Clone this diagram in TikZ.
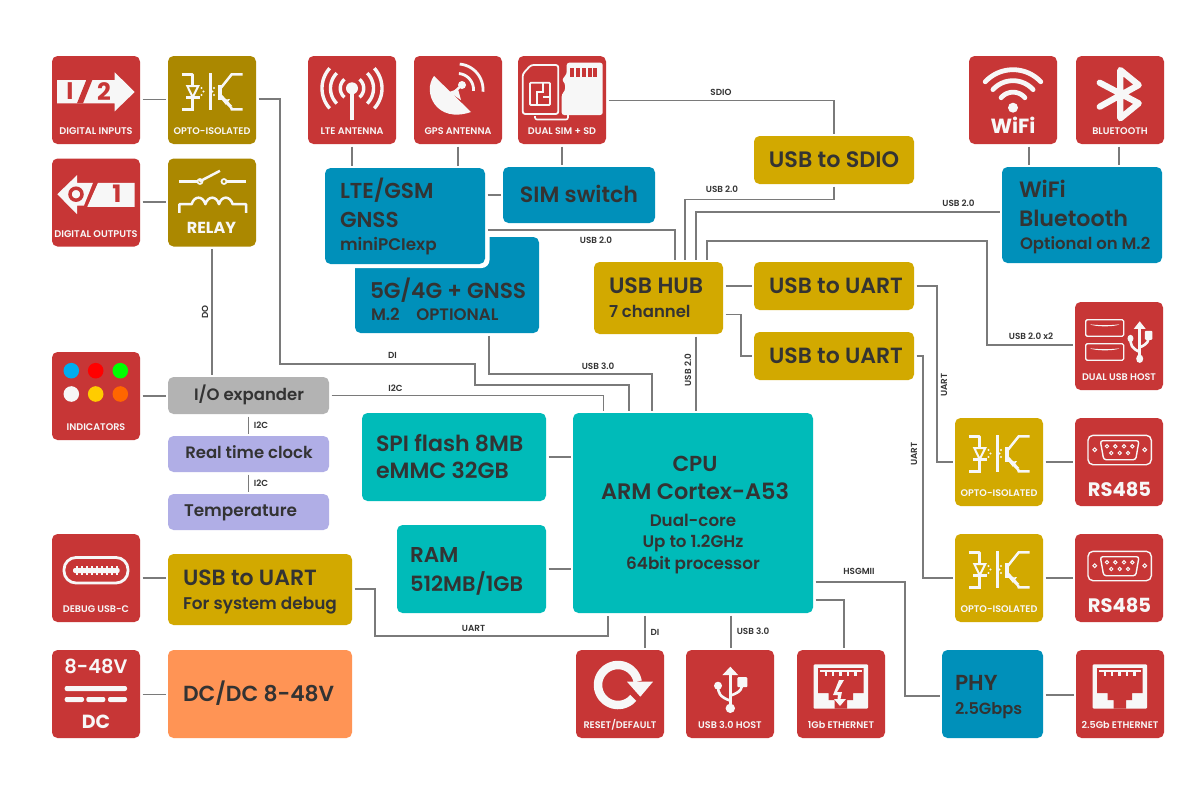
\documentclass[tikz,border=0pt]{standalone}
\usepackage{fontspec}
\setmainfont{Poppins SemiBold}
\newfontfamily\semi{Poppins SemiBold}
\newfontfamily\bld{Poppins Bold}
\usetikzlibrary{calc}
\definecolor{ired}{HTML}{C73636}
\definecolor{igold}{HTML}{AB8800}
\definecolor{gold}{HTML}{D2A900}
\definecolor{blu}{HTML}{0090BA}
\definecolor{teal2}{HTML}{00BBB9}
\definecolor{gry}{HTML}{B3B3B3}
\definecolor{lav}{HTML}{B0AEE6}
\definecolor{orng}{HTML}{FF9455}
\definecolor{ink}{HTML}{333333}
\definecolor{iw}{HTML}{F7F7F7}
\definecolor{wirec}{HTML}{7A7A7A}
\definecolor{ledy}{HTML}{FFCC00}
\definecolor{ledo}{HTML}{FF6600}
\tikzset{
  boxn/.style={rectangle,rounded corners=5.5pt,inner sep=0pt,outer sep=2.5pt},
  wire/.style={draw=wirec,line width=1.5pt},
  ic/.style={draw=iw,line width=2.5pt},
  txt/.style={inner sep=0pt,outer sep=0pt,text=ink},
}
\newcounter{tn}
% name, x1,y1,x2,y2, colour
\newcommand\bx[6]{%
  \pgfmathsetmacro\bw{#4-#2}\pgfmathsetmacro\bh{#5-#3}%
  \pgfmathsetmacro\bcx{(#4+#2)/2}\pgfmathsetmacro\bcy{(#5+#3)/2}%
  \node[boxn,fill=#6,minimum width=\bw pt,minimum height=\bh pt] (#1) at (\bcx,\bcy) {};}
% anchor, x,y,size, text (dark, medium)
\newcommand\tm[5][west]{%
  \stepcounter{tn}\pgfmathsetmacro\th{0.7*#4}%
  \node[txt,anchor=#1,text height=\th pt,text depth=0pt,font=\fontsize{#4}{#4}\selectfont] (t\arabic{tn}) at (#2,#3) {#5};}
% x,y,text small label; optional rotation
\newcommand\ts[4][0]{%
  \stepcounter{tn}%
  \node[txt,rotate=#1,text height=6pt,text depth=0pt,font=\fontsize{8.8}{9}\semi] (t\arabic{tn}) at (#2,#3) {#4};}
% x,y,size,text white
\newcommand\tw[4]{%
  \stepcounter{tn}\pgfmathsetmacro\th{0.7*#3}%
  \node[txt,text=iw,text height=\th pt,text depth=0pt,font=\fontsize{#3}{#3}\semi] (t\arabic{tn}) at (#1,#2) {#4};}
\newcommand\ilabel[2]{\tw{44}{75.3}{#1}{#2}}
% arc path using screen angles: cx cy r a b
\newcommand\sarc[5]{plot[smooth,domain=#4:#5,samples=25] ({#1+#3*cos(\x)},{#2-#3*sin(\x)})}
\newcommand\optoicon[2]{\begin{scope}[shift={(#1,#2)}]
  \draw[ic,line join=round] (13.7,18.3) -- (24.7,18.3) -- (24.7,30);
  \draw[ic,line width=2pt] (19.3,30) -- (30.3,30) -- (24.7,41.3) -- cycle;
  \draw[ic] (18.2,41.3) -- (31.5,41.3);
  \draw[ic] (24.7,41.3) -- (24.7,53.3) -- (13.7,53.3);
  \draw[ic] (42.7,17.3) -- (42.7,54);
  \draw[ic,line width=4pt] (52,29) -- (52,44);
  \draw[ic] (52,33) -- (63.7,18.3) -- (74.7,18.3);
  \draw[ic,line width=3.2pt] (52,39) -- (63,51);
  \draw[ic] (63,51) -- (63.7,53.3) -- (74.7,53.3);
  \fill[iw] (54,44) -- (62,43) -- (58,49) -- cycle;
  \foreach \a/\b in {33.5/32,35.5/35.5,33.5/39, 46/32,44.5/35.5,46/39}{\fill[iw] (\a,\b) circle[radius=1.1];}
  \end{scope}}
\newcommand\dbicon[2]{\begin{scope}[shift={(#1,#2)}]
  \draw[draw=iw,line width=1.4pt,rounded corners=5pt] (13,17.3) rectangle (76.3,46.7);
  \draw[draw=iw,line width=1.4pt,rounded corners=2.5pt] (25.3,22.7) -- (64,22.7) -- (60.7,41.7) -- (28.7,41.7) -- cycle;
  \foreach \a in {32,40.3,49,57.3}{\draw[iw,line width=1pt] (\a,28.3) circle[radius=1.7];}
  \foreach \a in {36.3,44.7,53}{\draw[iw,line width=1pt] (\a,35) circle[radius=1.7];}
  \foreach \a in {19.7,69.7}{\draw[iw,line width=1pt] (\a,31.7) circle[radius=1.9];}
  \tw{44.5}{71.7}{19.5}{\bld RS485}
  \end{scope}}
\newcommand\rjicon[2]{\begin{scope}[shift={(#1,#2)}]
  \fill[iw,rounded corners=1pt] (16.7,14.3) rectangle (71,58.7);
  \fill[ired] (21,18) -- (66.7,18) -- (66.7,43) -- (56,43) -- (56,50) -- (50,50) -- (50,58.7) -- (37.7,58.7) -- (37.7,50) -- (31.7,50) -- (31.7,43) -- (21,43) -- cycle;
  \fill[iw] (22.7,19.5) rectangle (65.3,22);
  \foreach \a in {29,36,43.5,51,58.5}{\fill[iw] (\a-1.1,22) rectangle (\a+1.1,26);}
  \end{scope}}
\newcommand\usbtri[4]{\begin{scope}[shift={(#1,#2)},xscale=#3,yscale=#4]
  \draw[iw,line width=2.6pt] (0,6) -- (0,41);
  \fill[iw] (0,0) -- (8,8.5) -- (-8,8.5) -- cycle;
  \fill[iw] (0,41.6) circle[radius=4.7];
  \draw[iw,line width=2.6pt] (0,34) .. controls (-11,30) and (-12.3,26) .. (-12.3,19);
  \fill[iw] (-12.3,19) circle[radius=4];
  \draw[iw,line width=2.6pt] (0,29) .. controls (11,25) and (12,22) .. (12,15.5);
  \fill[iw,rounded corners=1pt] (7,10.5) rectangle (17,20.5);
  \end{scope}}
\begin{document}
\begin{tikzpicture}[x=1pt,y=-1pt]
\useasboundingbox (0,0) rectangle (1200,801);
\fill[white] (0,0) rectangle (1200,801);
% red / icon boxes
\bx{dinp}{52}{56}{140}{144}{ired}
\bx{optoa}{168}{56}{256}{144}{igold}
\bx{dout}{52}{158.5}{140}{246.5}{ired}
\bx{relay}{168}{158.5}{256}{246.5}{igold}
\bx{lteant}{308}{56}{396}{144}{ired}
\bx{gpsant}{414}{56}{502}{144}{ired}
\bx{dsim}{518}{56}{606}{144}{ired}
\bx{wifi}{969}{56}{1057}{144}{ired}
\bx{bt}{1076}{56}{1164}{144}{ired}
\bx{dusb}{1075}{302}{1163}{390}{ired}
\bx{optob}{955}{418}{1043}{506}{gold}
\bx{rsa}{1075}{418}{1163}{506}{ired}
\bx{optoc}{955}{534}{1043}{622}{gold}
\bx{rsb}{1075}{534}{1163}{622}{ired}
\bx{ind}{52}{352}{140}{440}{ired}
\bx{dbg}{52}{534}{140}{622}{ired}
\bx{dcic}{52}{650}{140}{738}{ired}
\bx{rst}{576}{650}{664}{738}{ired}
\bx{usbh}{686}{650}{774}{738}{ired}
\bx{gbe}{797}{650}{885}{738}{ired}
\bx{tgbe}{1076}{650}{1164}{738}{ired}
% blocks
\bx{fiveg}{355}{237}{539}{333}{blu}
\fill[white,rounded corners=8pt] (321,164) rectangle (489.5,268);
\bx{lte}{325}{168}{485}{264}{blu}
\bx{sim}{503}{167}{655}{223}{blu}
\bx{sdio}{754}{136}{914}{184}{gold}
\bx{wb}{1002}{167}{1162}{263}{blu}
\bx{hub}{594}{262}{723}{334}{gold}
\bx{ua}{754}{262}{914}{310}{gold}
\bx{ub}{754}{332}{914}{380}{gold}
\bx{ioe}{168}{377}{329}{414}{gry}
\bx{rtc}{168}{436}{329}{472}{lav}
\bx{temp}{168}{494}{329}{530}{lav}
\bx{spi}{362}{413}{546}{501}{teal2}
\bx{ram}{397}{525}{546}{613}{teal2}
\bx{cpu}{573}{413}{813}{613}{teal2}
\bx{udbg}{168}{554}{352}{625}{gold}
\bx{dcdc}{168}{650}{352}{738}{orng}
\bx{phy}{942}{650}{1043}{738}{blu}
% connectors
\draw[wire] (dinp.east |- 0,99.5) -- (optoa.west |- 0,99.5);
\draw[wire] (dout.east |- 0,202) -- (relay.west |- 0,202);
\draw[wire] (optoa.east |- 0,99) -- (280,99) -- (280,364) -- (475,364) -- (475,385) -- (629,385) -- (629,0 |- cpu.north);
\draw[wire] (212,0 |- relay.south) -- (212,0 |- ioe.north);
\draw[wire] (352,0 |- lteant.south) -- (352,0 |- lte.north);
\draw[wire] (458,0 |- gpsant.south) -- (458,0 |- lte.north);
\draw[wire] (562,0 |- dsim.south) -- (562,0 |- sim.north);
\draw[wire] (lte.east |- 0,195) -- (sim.west |- 0,195);
\draw[wire] (dsim.east |- 0,100.5) -- (834,100.5) -- (834,0 |- sdio.north);
\draw[wire] (lte.east |- 0,230) -- (675,230) -- (675,0 |- hub.north);
\draw[wire] (834,0 |- sdio.south) -- (834,199.5) -- (685,199.5) -- (685,0 |- hub.north);
\draw[wire] (wb.west |- 0,212) -- (696,212) -- (696,0 |- hub.north);
\draw[wire] (707,0 |- hub.north) -- (707,241) -- (987,241) -- (987,345) -- (dusb.west |- 0,345);
\draw[wire] (1029,0 |- wifi.south) -- (1029,0 |- wb.north);
\draw[wire] (1119,0 |- bt.south) -- (1119,0 |- wb.north);
\draw[wire] (hub.east |- 0,286) -- (ua.west |- 0,286);
\draw[wire] (hub.east |- 0,314.5) -- (741,314.5) -- (741,356) -- (ub.west |- 0,356);
\draw[wire] (ua.east |- 0,286) -- (937,286) -- (937,462) -- (optob.west |- 0,462);
\draw[wire] (ub.east |- 0,356) -- (923,356) -- (923,578) -- (optoc.west |- 0,578);
\draw[wire] (optob.east |- 0,462) -- (rsa.west |- 0,462);
\draw[wire] (optoc.east |- 0,578) -- (rsb.west |- 0,578);
\draw[wire] (ind.east |- 0,396) -- (ioe.west |- 0,396);
\draw[wire] (ioe.east |- 0,395.5) -- (603.5,395.5) -- (603.5,0 |- cpu.north);
\draw[wire] (489,0 |- fiveg.south) -- (489,374) -- (652,374) -- (652,0 |- cpu.north);
\draw[wire] (696,0 |- hub.south) -- (696,0 |- cpu.north);
\draw[wire] (248.5,0 |- ioe.south) -- (248.5,0 |- rtc.north);
\draw[wire] (248.5,0 |- rtc.south) -- (248.5,0 |- temp.north);
\draw[wire] (spi.east |- 0,457) -- (cpu.west |- 0,457);
\draw[wire] (ram.east |- 0,569) -- (cpu.west |- 0,569);
\draw[wire] (dbg.east |- 0,578) -- (udbg.west |- 0,578);
\draw[wire] (dcic.east |- 0,694.5) -- (dcdc.west |- 0,694.5);
\draw[wire] (udbg.east |- 0,589) -- (375,589) -- (375,636) -- (608,636) -- (608,0 |- cpu.south);
\draw[wire] (645,0 |- cpu.south) -- (645,0 |- rst.north);
\draw[wire] (731,0 |- cpu.south) -- (731,0 |- usbh.north);
\draw[wire] (cpu.east |- 0,600) -- (844,600) -- (844,0 |- gbe.north);
\draw[wire] (cpu.east |- 0,582) -- (905,582) -- (905,696) -- (phy.west |- 0,696);
\draw[wire] (phy.east |- 0,695) -- (tgbe.west |- 0,695);
% connector labels
\ts{721}{92}{SDIO}
\ts{722}{189.5}{USB 2.0}
\ts{596}{240}{USB 2.0}
\ts{958.5}{203}{USB 2.0}
\ts{1031}{336.5}{USB 2.0 x2}
\ts{392.5}{355}{DI}
\ts{395.5}{388}{I2C}
\ts{598}{366.5}{USB 3.0}
\ts[90]{688}{370}{USB 2.0}
\ts[90]{205}{312}{DO}
\ts{261}{425}{I2C}
\ts{261}{483}{I2C}
\ts{473.5}{628}{UART}
\ts{655}{632}{DI}
\ts{753}{631}{USB 3.0}
\ts{859}{571}{HSGMII}
\ts[90]{944}{385}{UART}
\ts[90]{914}{454}{UART}
% block texts
\tm{340}{191}{21.6}{LTE/GSM}
\tm{340}{220}{21.6}{GNSS}
\tm{340}{245}{16.8}{miniPCIexp}
\tm{370}{291}{21.7}{5G/4G + GNSS}
\tm{371}{315}{16.6}{M.2\hspace{1em}OPTIONAL}
\tm[center]{579}{195}{22.1}{SIM switch}
\tm[center]{834}{160}{22.3}{USB to SDIO}
\tm{609}{286}{22.2}{USB HUB}
\tm{609}{312}{16.5}{7 channel}
\tm[center]{836}{286}{22}{USB to UART}
\tm[center]{836}{356}{22}{USB to UART}
\tm{1019}{190}{22.2}{WiFi}
\tm{1019}{219}{22.2}{Bluetooth}
\tm{1020}{244}{16.5}{Optional on M.2}
\tm[center]{695}{464}{21.7}{CPU}
\tm[center]{695}{492}{22.4}{ARM Cortex-A53}
\tm[center]{693}{521}{16.7}{Dual-core}
\tm[center]{693}{542}{16.7}{Up to 1.2GHz}
\tm[center]{693}{564}{16.8}{64bit processor}
\tm{376}{444}{22.1}{SPI flash 8MB}
\tm{376}{471}{22.1}{eMMC 32GB}
\tm{410}{555}{21.5}{RAM}
\tm{410}{584}{21}{512MB/1GB}
\tm[center]{249}{395}{16.5}{I/O expander}
\tm[center]{249}{453}{16.5}{Real time clock}
\tm{184}{511}{16.9}{Temperature}
\tm{183}{578}{22}{USB to UART}
\tm{183}{604}{16.9}{For system debug}
\tm{183}{694}{21.8}{DC/DC 8-48V}
\tm{955}{683}{21.7}{PHY}
\tm{955}{709}{16.2}{2.5Gbps}
% --- icons ---
% digital inputs
\begin{scope}[shift={(52,56)}]
  \fill[iw] (5,24) -- (62.7,24) -- (62.7,16.3) -- (82.7,36) -- (62.7,55.3) -- (62.7,47.3) -- (5,47.3) -- cycle;
  \fill[ired] (25,47.3) -- (31,47.3) -- (40.3,24) -- (34.3,24) -- cycle;
  \stepcounter{tn}\node[txt,text=ired,font=\fontsize{24}{24}\bld] (t\arabic{tn}) at (18,35.5) {I};
  \stepcounter{tn}\node[txt,text=ired,font=\fontsize{24}{24}\bld] (t\arabic{tn}) at (52,35.5) {2};
  \ilabel{9.7}{DIGITAL INPUTS}
\end{scope}
\optoicon{168}{56}
\begin{scope}[shift={(168,56)}]\ilabel{9.6}{OPTO-ISOLATED}\end{scope}
% digital outputs
\begin{scope}[shift={(52,158.5)}]
  \fill[iw] (5.3,35.7) -- (25,16.7) -- (25,24.3) -- (41,24.3) -- (32,47) -- (25,47) -- (25,55.7) -- cycle;
  \fill[iw] (46,24.3) -- (82.7,24.3) -- (82.7,48.3) -- (35.3,48.3) -- cycle;
  \draw[ired,line width=3.5pt] (24,35.7) circle[radius=6];
  \stepcounter{tn}\node[txt,text=ired,font=\fontsize{24}{24}\bld] (t\arabic{tn}) at (65,35.5) {1};
  \ilabel{9.7}{DIGITAL OUTPUTS}
\end{scope}
% relay
\begin{scope}[shift={(168,158.5)}]
  \draw[ic] (10.7,23) -- (29,23);
  \draw[ic] (31.5,23) -- (52,12.3);
  \draw[ic] (58.7,23) -- (78,23);
  \draw[iw,line width=1.7pt] (32,23) circle[radius=2.5];
  \draw[iw,line width=1.7pt] (56,23) circle[radius=2.5];
  \draw[ic,line join=round] (11.3,54.3) -- (11.3,45.7) -- (23.7,45.7) .. controls (26,37) and (35,37) .. (37.4,45.7) .. controls (40,37) and (48.5,37) .. (51,45.7) .. controls (53.5,37) and (62,37) .. (64.7,45.7) -- (78,45.7) -- (78,54.3);
  \tw{43.5}{69}{16}{\bld RELAY}
\end{scope}
% LTE antenna
\begin{scope}[shift={(308,56)}]
  \fill[iw] (44,32.3) circle[radius=6];
  \draw[iw,line width=3.4pt] (44,33) -- (44,64);
  \draw[iw,line width=3.4pt] \sarc{44}{32.3}{11.7}{130}{230};
  \draw[iw,line width=3.4pt] \sarc{44}{32.3}{11.7}{-50}{50};
  \draw[iw,line width=3.4pt] \sarc{44}{32.3}{21.5}{135}{225};
  \draw[iw,line width=3.4pt] \sarc{44}{32.3}{21.5}{-45}{45};
  \draw[iw,line width=3.4pt] \sarc{44}{32.3}{30}{138}{222};
  \draw[iw,line width=3.4pt] \sarc{44}{32.3}{30}{-42}{42};
  \ilabel{9.6}{LTE ANTENNA}
\end{scope}
% GPS antenna
\begin{scope}[shift={(414,56)}]
  \fill[iw] (20,20) .. controls (8,36) and (22,68) .. (57,56) -- cycle;
  \draw[iw,line width=2.4pt] (38,38) -- (48,29);
  \fill[iw] (35,36) -- (47,44) -- (44,33) -- cycle;
  \fill[iw] (48,29) circle[radius=4];
  \draw[iw,line width=2.8pt] \sarc{43.5}{33.5}{16}{-5}{85};
  \draw[iw,line width=2.8pt] \sarc{43.5}{33.5}{25.5}{-5}{85};
  \ilabel{9.6}{GPS ANTENNA}
\end{scope}
% dual SIM + SD
\begin{scope}[shift={(518,56)}]
  \draw[iw,line width=1.8pt,rounded corners=2.5pt] (13,9) -- (40.3,9) -- (40.3,58) -- (4.7,58) -- (4.7,18) -- cycle;
  \draw[iw,line width=1.8pt,rounded corners=1pt] (12,26.7) rectangle (32,49);
  \draw[iw,line width=1.6pt] (19,49) -- (19,36) -- (25,36) -- (25,26.7);
  \draw[iw,line width=1.6pt] (25,41) -- (32,41);
  \fill[iw,rounded corners=2.5pt] (48.7,6.7) -- (84.7,6.7) -- (84.7,59) -- (43.7,59) -- (43.7,38) -- (47,35) -- (47,27) -- (43.7,24) -- (48.7,18) -- cycle;
  \foreach \a in {53.5,59.5,65.5,71.5,77}{\fill[ired] (\a-2,11.5) rectangle (\a+2,21);}
  \draw[iw,line width=1.6pt,rounded corners=2pt] (17,60) -- (17,63.5) -- (50,63.5) -- (50,59);
  \ilabel{9.6}{DUAL SIM + SD}
\end{scope}
% WiFi
\begin{scope}[shift={(969,56)}]
  \draw[iw,line width=4.8pt,line cap=round] \sarc{44}{51.7}{38}{43}{137};
  \draw[iw,line width=4.8pt,line cap=round] \sarc{44}{51.7}{27}{42}{138};
  \draw[iw,line width=4.8pt,line cap=round] \sarc{44}{51.7}{15.5}{40}{140};
  \fill[iw] (44,51.7) circle[radius=5];
  \tw{44}{70.5}{20.5}{\bld WiFi}
\end{scope}
% Bluetooth
\begin{scope}[shift={(1076,56)}]
  \draw[iw,line width=6.2pt,line join=round,line cap=round] (23.7,26.7) -- (62.7,47.3) -- (44.3,62.3) -- (44.3,14) -- (62.7,29) -- (23.7,50.7);
  \ilabel{9.6}{BLUETOOTH}
\end{scope}
% dual USB
\begin{scope}[shift={(1075,302)}]
  \draw[iw,line width=1.3pt,rounded corners=1.5pt] (10.7,17.7) rectangle (48.7,34.3);
  \draw[iw,line width=1.3pt,rounded corners=1.5pt] (10.7,41.7) rectangle (48.7,58.3);
  \fill[iw] (15,22.3) .. controls (25,23.5) and (35,23.5) .. (44.5,22.3) .. controls (40,25) and (20,25) .. (15,22.3);
  \fill[iw] (15,46.3) .. controls (25,47.5) and (35,47.5) .. (44.5,46.3) .. controls (40,49) and (20,49) .. (15,46.3);
  \usbtri{64.7}{19.3}{.75}{.9}
  \ilabel{9.6}{DUAL USB HOST}
\end{scope}
% opto + RS485
\optoicon{955}{418}
\begin{scope}[shift={(955,418)}]\ilabel{9.6}{OPTO-ISOLATED}\end{scope}
\optoicon{955}{534}
\begin{scope}[shift={(955,534)}]\ilabel{9.6}{OPTO-ISOLATED}\end{scope}
\dbicon{1075}{418}
\dbicon{1075}{534}
% indicators
\begin{scope}[shift={(52,352)}]
  \foreach \a/\b/\c in {19.3/18.7/cyan,43.7/18.7/red,68.3/18.7/green,19.3/42/iw,43.7/42/ledy,68.3/42/ledo}{\fill[\c] (\a,\b) circle[radius=7.8];}
  \ilabel{9.6}{INDICATORS}
\end{scope}
% debug usb-c
\begin{scope}[shift={(52,534)}]
  \draw[iw,line width=2.8pt,rounded corners=12pt] (12,23.5) rectangle (76,49);
  \fill[iw,rounded corners=2pt] (21,34) rectangle (67.7,39);
  \foreach \a in {25,30,35,40,45,50,55,60,65}{\fill[iw] (\a-1,32) rectangle (\a+1,41);}
  \ilabel{9.6}{DEBUG USB-C}
\end{scope}
% DC
\begin{scope}[shift={(52,650)}]
  \tw{44}{16.5}{19.5}{8-48V}
  \fill[iw,rounded corners=2pt] (12.7,36) rectangle (75,41);
  \fill[iw,rounded corners=2pt] (12.7,47) rectangle (32,52);
  \fill[iw,rounded corners=2pt] (34.3,47) rectangle (53.3,52);
  \fill[iw,rounded corners=2pt] (56,47) rectangle (75,52);
  \tw{44}{71.7}{19}{\bld DC}
\end{scope}
% reset
\begin{scope}[shift={(576,650)}]
  \draw[iw,line width=8.5pt] \sarc{42}{35}{20}{-40}{-350};
  \fill[iw] (51,31.7) -- (77,31.7) -- (64.3,46.7) -- cycle;
  \ilabel{9.6}{RESET/DEFAULT}
\end{scope}
% USB 3.0 host
\usbtri{730.3}{666.7}{1}{1}
\begin{scope}[shift={(686,650)}]\ilabel{9.6}{USB 3.0 HOST}\end{scope}
% 1Gb
\rjicon{797}{650}
\begin{scope}[shift={(797,650)}]
  \fill[iw] (47,30) -- (40,42) -- (45,42) -- (43.5,49) -- (49,49) -- (43,56) -- (37,49) -- (40.5,49) -- (41,45) -- (36,45) -- (42,30) -- cycle;
  \ilabel{9.6}{1Gb ETHERNET}
\end{scope}
% 2.5Gb
\rjicon{1076}{650}
\begin{scope}[shift={(1076,650)}]\ilabel{9.6}{2.5Gb ETHERNET}\end{scope}
\end{tikzpicture}
\end{document}
